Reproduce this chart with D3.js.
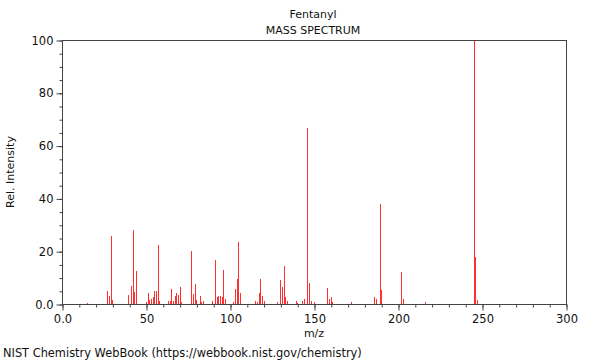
<!DOCTYPE html>
<html>
<head>
<meta charset="utf-8">
<script src="https://cdn.jsdelivr.net/npm/d3@7"></script>
<style>
  html, body { margin: 0; padding: 0; background: #fff; }
  svg { display: block; font-family: "DejaVu Sans", sans-serif; }
</style>
</head>
<body>
<svg id="chart" width="600" height="360"></svg>
<script>
// ---- data ----
const mz = [15, 27, 28, 29, 30, 39, 41, 42, 43, 44,
  50, 51, 52, 53, 54, 55, 56, 57, 58,
  63, 64, 65, 66, 67, 68, 69, 70, 71,
  77, 78, 79, 80, 82, 83, 84,
  89, 91, 92, 93, 94, 95, 96, 97,
  102, 103, 104, 105, 106,
  115, 116, 117, 118, 119, 120,
  128, 130, 131, 132, 133, 134,
  139, 140, 143, 144, 146, 147, 148, 150,
  158, 159, 160, 161, 172,
  186, 187, 189, 190,
  202, 203, 216,
  245, 246, 247];
const intensity = [0.4, 4.9, 3.0, 25.8, 1.5, 3.5, 7.0, 28.0, 4.5, 12.5,
  0.8, 4.3, 1.5, 2.0, 2.5, 4.9, 4.9, 22.5, 1.3,
  1.3, 1.0, 5.7, 1.1, 3.0, 4.2, 3.5, 6.5, 0.8,
  20.1, 3.9, 7.6, 1.5, 3.0, 0.8, 1.1,
  1.0, 16.7, 2.5, 3.0, 3.0, 2.5, 12.9, 2.0,
  0.8, 5.7, 9.5, 23.5, 4.3,
  1.0, 0.8, 4.3, 9.5, 3.0, 1.3,
  0.8, 9.0, 6.5, 14.4, 2.5, 1.3,
  1.1, 0.5, 1.1, 2.0, 66.8, 8.0, 1.1, 0.8,
  6.0, 2.0, 2.8, 0.8, 0.8,
  2.5, 2.0, 37.9, 5.3,
  12.0, 2.0, 0.8,
  100, 17.7, 1.5];
const xTickValues = [0, 50, 100, 150, 200, 250, 300];
const xTickLabels = ["0.0", "50", "100", "150", "200", "250", "300"];
const yTickValues = [0, 20, 40, 60, 80, 100];
const yTickLabels = ["0.0", "20", "40", "60", "80", "100"];
const titleLines = ["Fentanyl", "MASS SPECTRUM"];
const xLabel = "m/z";
const yLabel = "Rel. Intensity";
const footer = "NIST Chemistry WebBook (https://webbook.nist.gov/chemistry)";

// ---- layout ----
const pLeft = 62, pRight = 566, pTop = 40, pBottom = 304;
const svg = d3.select("#chart");
const x = d3.scaleLinear().domain([0, 300]).range([pLeft, pRight]);
const y = d3.scaleLinear().domain([0, 100]).range([pBottom, pTop]);
const textColor = "#111";
const axisColor = "#444";

// bars
svg.append("g").selectAll("line")
  .data(mz.map((m, i) => ({ m, v: intensity[i] })))
  .join("line")
  .attr("x1", d => Math.round(x(d.m)) + 0.5).attr("x2", d => Math.round(x(d.m)) + 0.5)
  .attr("y1", y(0)).attr("y2", d => y(d.v))
  .attr("stroke", "#ff3030").attr("stroke-width", 1)
  .attr("shape-rendering", "crispEdges");

// frame
svg.append("rect")
  .attr("x", pLeft + 0.5).attr("y", pTop + 0.5)
  .attr("width", pRight - pLeft).attr("height", pBottom - pTop)
  .attr("fill", "none").attr("stroke", axisColor).attr("stroke-width", 1);

// x axis (minor then major)
const xMinor = d3.axisBottom(x).tickValues(d3.range(0, 301, 10)).tickSize(3).tickFormat("");
const gxm = svg.append("g").attr("transform", `translate(0.5,${pBottom + 0.5})`).call(xMinor);
gxm.select(".domain").remove();
gxm.selectAll("line").attr("stroke", axisColor);
const xAxis = d3.axisBottom(x).tickValues(xTickValues).tickSize(6).tickPadding(4)
  .tickFormat((d, i) => xTickLabels[i]);
const gx = svg.append("g").attr("transform", `translate(0.5,${pBottom + 0.5})`).call(xAxis);
gx.select(".domain").remove();
gx.selectAll("line").attr("stroke", axisColor);
gx.selectAll("text").attr("font-size", 11.5).attr("fill", textColor)
  .attr("font-family", "DejaVu Sans, sans-serif");

// y axis
const yMinor = d3.axisLeft(y).tickValues(d3.range(0, 101, 5)).tickSize(3).tickFormat("");
const gym = svg.append("g").attr("transform", `translate(${pLeft + 0.5},0.5)`).call(yMinor);
gym.select(".domain").remove();
gym.selectAll("line").attr("stroke", axisColor);
const yAxis = d3.axisLeft(y).tickValues(yTickValues).tickSize(6).tickPadding(3)
  .tickFormat((d, i) => yTickLabels[i]);
const gy = svg.append("g").attr("transform", `translate(${pLeft + 0.5},0.5)`).call(yAxis);
gy.select(".domain").remove();
gy.selectAll("line").attr("stroke", axisColor);
gy.selectAll("text").attr("font-size", 11.5).attr("fill", textColor)
  .attr("font-family", "DejaVu Sans, sans-serif");

// titles
svg.append("text").attr("x", 313).attr("y", 18).attr("text-anchor", "middle")
  .attr("font-size", 11).attr("fill", textColor).text(titleLines[0]);
svg.append("text").attr("x", 313).attr("y", 34).attr("text-anchor", "middle")
  .attr("font-size", 11).attr("fill", textColor).text(titleLines[1]);
svg.append("text").attr("x", 314).attr("y", 337).attr("text-anchor", "middle")
  .attr("font-size", 11).attr("fill", textColor).text(xLabel);
svg.append("text").attr("transform", "translate(14,172) rotate(-90)")
  .attr("text-anchor", "middle").attr("font-size", 11).attr("fill", textColor).text(yLabel);
svg.append("text").attr("x", 3).attr("y", 357)
  .attr("font-size", 11.4).attr("fill", textColor).text(footer);
</script>
</body>
</html>
